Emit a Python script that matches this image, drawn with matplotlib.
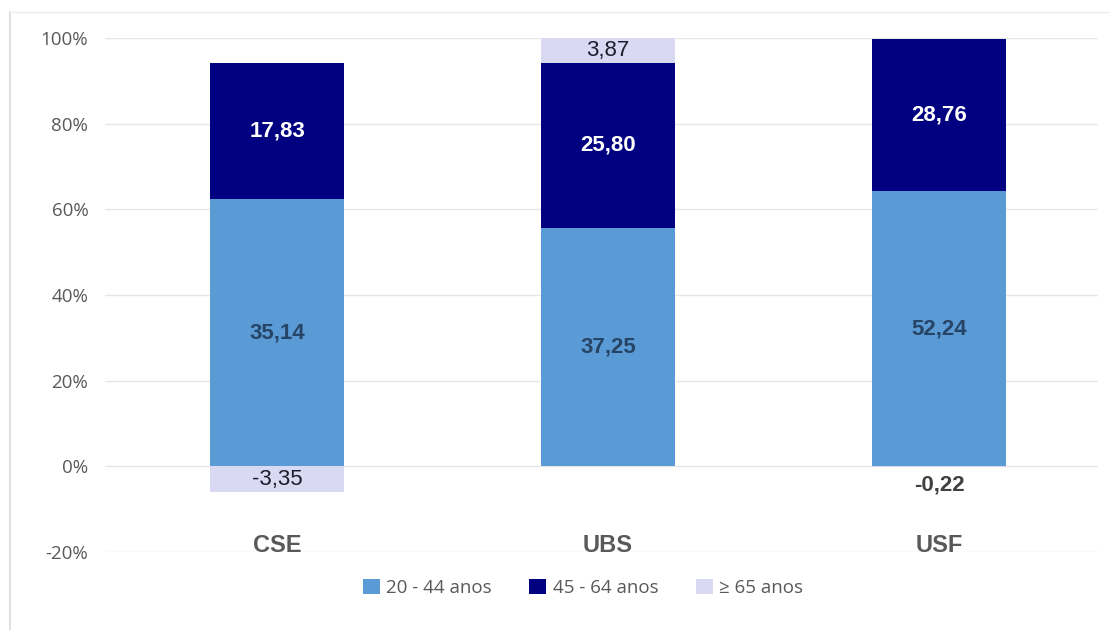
import numpy as np
import matplotlib
matplotlib.use("Agg")
import matplotlib.pyplot as plt
from matplotlib.patches import Patch
from matplotlib.lines import Line2D
from matplotlib.ticker import FuncFormatter

categories = ["CSE", "UBS", "USF"]
series_names = ["20 - 44 anos", "45 - 64 anos", "\u2265 65 anos"]
age_20_44 = [35.14, 37.25, 52.24]
age_45_64 = [17.83, 25.80, 28.76]
age_65_up = [-3.35, 3.87, -0.22]

colors = ["#5B9BD5", "#000080", "#D9D9F4"]
label_colors = ["#264466", "white", "#1c1c2c"]
label_weights = ["bold", "bold", "normal"]

series = np.array([age_20_44, age_45_64, age_65_up])
# 100% stacked: each value as share of the column's absolute total
totals = np.abs(series).sum(axis=0)
shares = series / totals

fig = plt.figure(figsize=(11.12, 6.30), dpi=100)
fig.patch.set_facecolor("white")
ax = fig.add_axes([105 / 1112, 78 / 630, (1098 - 105) / 1112, (552 - 38) / 630])

# light frame around the chart area
fig.add_artist(Line2D([10 / 1112, 10 / 1112], [0, 1 - 12 / 630], color="#d9d9d9", lw=1.2))
fig.add_artist(Line2D([10 / 1112, 1108 / 1112], [1 - 12 / 630, 1 - 12 / 630], color="#ececec", lw=1.0))

x = np.arange(len(categories))
width = 0.405
pos_base = np.zeros(len(categories))
neg_base = np.zeros(len(categories))

for i, name in enumerate(series_names):
    vals = shares[i]
    bottoms = np.where(vals >= 0, pos_base, neg_base)
    ax.bar(x, vals, width, bottom=bottoms, color=colors[i], label=name, zorder=3)
    for j, v in enumerate(vals):
        text = f"{series[i][j]:.2f}".replace(".", ",")
        if abs(v) < 0.02:
            # segment too thin, label goes under it
            ax.text(x[j], bottoms[j] + v - 0.016, text, ha="center", va="top",
                    fontsize=16, fontweight="bold", color="#404040",
                    family="Liberation Sans", zorder=4)
        else:
            ax.text(x[j], bottoms[j] + v / 2, text, ha="center", va="center",
                    fontsize=16, fontweight=label_weights[i], color=label_colors[i],
                    family="Liberation Sans", zorder=4)
    pos_base = pos_base + np.where(vals >= 0, vals, 0)
    neg_base = neg_base + np.where(vals < 0, vals, 0)

ax.set_ylim(-0.2, 1.0)
ax.set_xlim(-0.52, 2.48)
ax.set_yticks(np.arange(-0.2, 1.01, 0.2))
ax.yaxis.set_major_formatter(FuncFormatter(lambda v, p: f"{v * 100:.0f}%"))
ax.grid(axis="y", color="#e6e6e6", lw=1.0, zorder=0)
ax.tick_params(axis="y", length=0, pad=12, labelsize=13.5, labelcolor="#595959")
for lbl in ax.get_yticklabels():
    lbl.set_family("Open Sans")
ax.set_xticks([])
for s in ax.spines.values():
    s.set_visible(False)

# category names sit just above the -20% gridline
for j, c in enumerate(categories):
    ax.text(x[j], -0.184, c, ha="center", va="center", fontsize=17,
            fontweight="bold", color="#595959", family="Liberation Sans", zorder=4)

handles = [Patch(facecolor=c, edgecolor="none") for c in colors]
leg = fig.legend(handles, series_names, loc="center", bbox_to_anchor=(583 / 1112, 1 - 588 / 630),
                 ncol=3, frameon=False, handlelength=0.9, handleheight=0.9,
                 handletextpad=0.35, columnspacing=2.0, prop={"family": "Open Sans", "size": 13.5})
for t in leg.get_texts():
    t.set_color("#595959")

fig.savefig("out.png", dpi=100)
